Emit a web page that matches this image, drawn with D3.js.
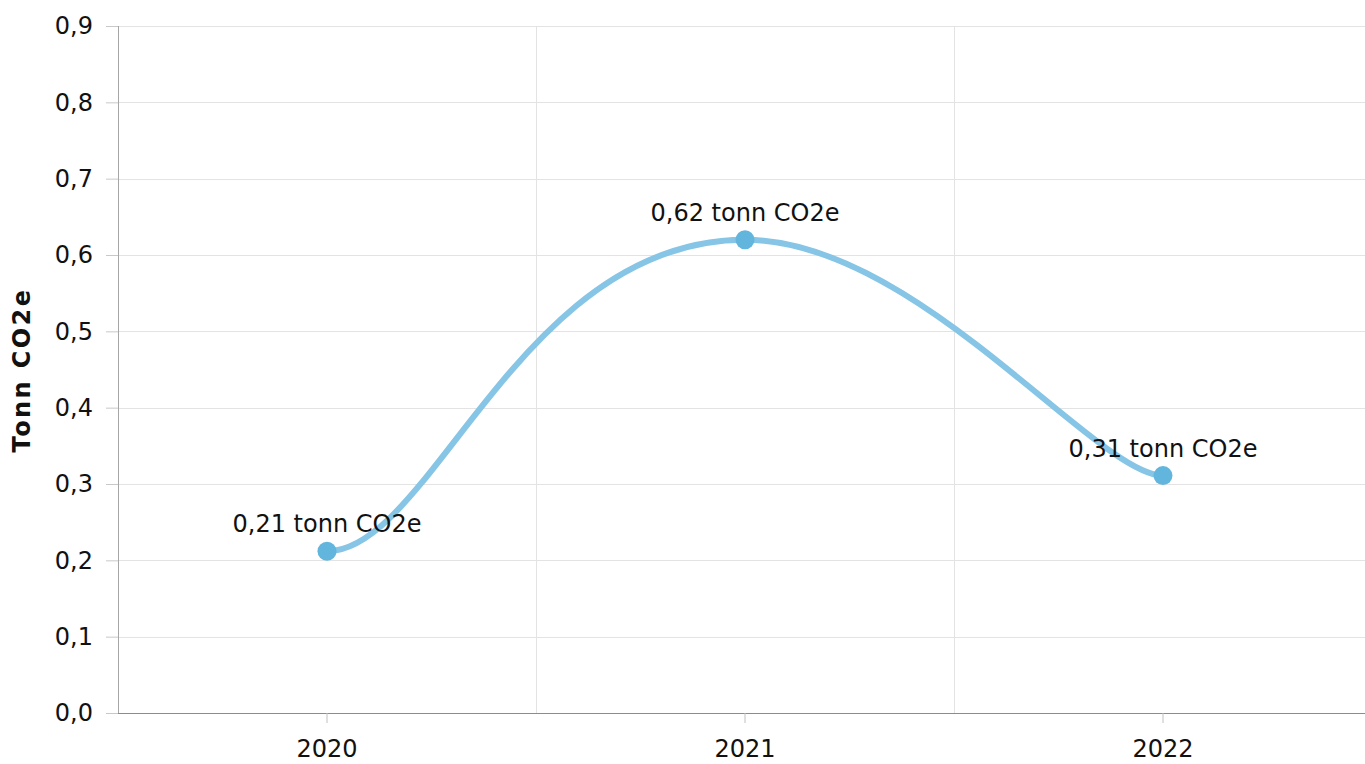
<!DOCTYPE html>
<html>
<head>
<meta charset="utf-8">
<script src="https://cdn.jsdelivr.net/npm/d3@7"></script>
<style>
  html, body { margin: 0; padding: 0; background: #fff; }
  svg { display: block; font-family: "DejaVu Sans", Verdana, sans-serif; }
</style>
</head>
<body>
<div id="chart"></div>
<script>
const years = ["2020", "2021", "2022"];
const values = [0.212, 0.62, 0.311];
const pointLabels = ["0,21 tonn CO2e", "0,62 tonn CO2e", "0,31 tonn CO2e"];
const yTicks = [0, 0.1, 0.2, 0.3, 0.4, 0.5, 0.6, 0.7, 0.8, 0.9];

const W = 1365, H = 764;
const margin = { top: 26, right: -7, bottom: 51, left: 118 };
const width = W - margin.left - margin.right;
const height = H - margin.top - margin.bottom;
const FONT = "'DejaVu Sans', Verdana, sans-serif";

const svg = d3.select("#chart")
  .append("svg")
  .attr("width", W)
  .attr("height", H);

const chart = svg.append("g")
  .attr("transform", `translate(${margin.left},${margin.top})`);

const x = d3.scaleBand()
  .domain(years)
  .range([0, width])
  .padding(0);

const y = d3.scaleLinear()
  .domain([0, 0.9])
  .range([height, 0]);

const fmt = d => d3.format(".1f")(d).replace(".", ",");
const cx = yr => x(yr) + x.bandwidth() / 2;

// grid
chart.append("g")
  .selectAll("line")
  .data(yTicks)
  .enter()
  .append("line")
  .attr("x1", 0).attr("x2", width)
  .attr("y1", d => Math.round(y(d)) + 0.5)
  .attr("y2", d => Math.round(y(d)) + 0.5)
  .attr("stroke", "#e3e3e3");

chart.append("g")
  .selectAll("line")
  .data(years.slice(1))
  .enter()
  .append("line")
  .attr("x1", d => Math.round(x(d)) + 0.5)
  .attr("x2", d => Math.round(x(d)) + 0.5)
  .attr("y1", 0).attr("y2", height)
  .attr("stroke", "#e3e3e3");

// axes
const yAxis = chart.append("g")
  .call(d3.axisLeft(y).tickValues(yTicks).tickFormat(fmt).tickSize(12).tickPadding(13));
yAxis.attr("font-family", FONT).attr("font-size", 24);
yAxis.select(".domain").attr("stroke", "#a6a6a6").attr("d", `M0.5,0V${height}`);
yAxis.selectAll(".tick line").attr("stroke", "#c8c8c8");
yAxis.selectAll(".tick text").attr("fill", "#111");

const xAxis = chart.append("g")
  .attr("transform", `translate(0,${height})`)
  .call(d3.axisBottom(x).tickSize(10).tickPadding(17));
xAxis.attr("font-family", FONT).attr("font-size", 24);
xAxis.select(".domain").attr("stroke", "#8c8c8c").attr("d", `M0,0.5H${width}`);
xAxis.selectAll(".tick line").attr("stroke", "#c0c0c0");
xAxis.selectAll(".tick text").attr("fill", "#111");

// y axis title
svg.append("text")
  .attr("transform", `translate(30,370) rotate(-90)`)
  .attr("text-anchor", "middle")
  .attr("font-size", 24)
  .attr("font-weight", "bold")
  .attr("letter-spacing", 2.4)
  .attr("fill", "#111")
  .text("Tonn CO2e");

// smooth line with horizontal tangents at each point; arm lengths as a share of the band
const arms = [[0, 0.25], [0.54, 0.41], [0.16, 0]];
function smoothPath(p) {
  const path = d3.path();
  path.moveTo(p[0][0], p[0][1]);
  for (let i = 1; i < p.length; i++) {
    const h = p[i][0] - p[i - 1][0];
    path.bezierCurveTo(
      p[i - 1][0] + arms[i - 1][1] * h, p[i - 1][1],
      p[i][0] - arms[i][0] * h, p[i][1],
      p[i][0], p[i][1]);
  }
  return path.toString();
}
const pts = years.map((yr, i) => [cx(yr), y(values[i])]);

chart.append("path")
  .attr("d", smoothPath(pts))
  .attr("fill", "none")
  .attr("stroke", "#86c5e5")
  .attr("stroke-width", 6)
  .attr("stroke-linecap", "round");

chart.selectAll(".dot")
  .data(values)
  .enter()
  .append("circle")
  .attr("class", "dot")
  .attr("cx", (d, i) => cx(years[i]))
  .attr("cy", d => y(d))
  .attr("r", 9.5)
  .attr("fill", "#62b5dc");

chart.selectAll(".plabel")
  .data(values)
  .enter()
  .append("text")
  .attr("class", "plabel")
  .attr("x", (d, i) => cx(years[i]))
  .attr("y", d => y(d) - 19)
  .attr("text-anchor", "middle")
  .attr("font-size", 24)
  .attr("fill", "#111")
  .text((d, i) => pointLabels[i]);
</script>
</body>
</html>
